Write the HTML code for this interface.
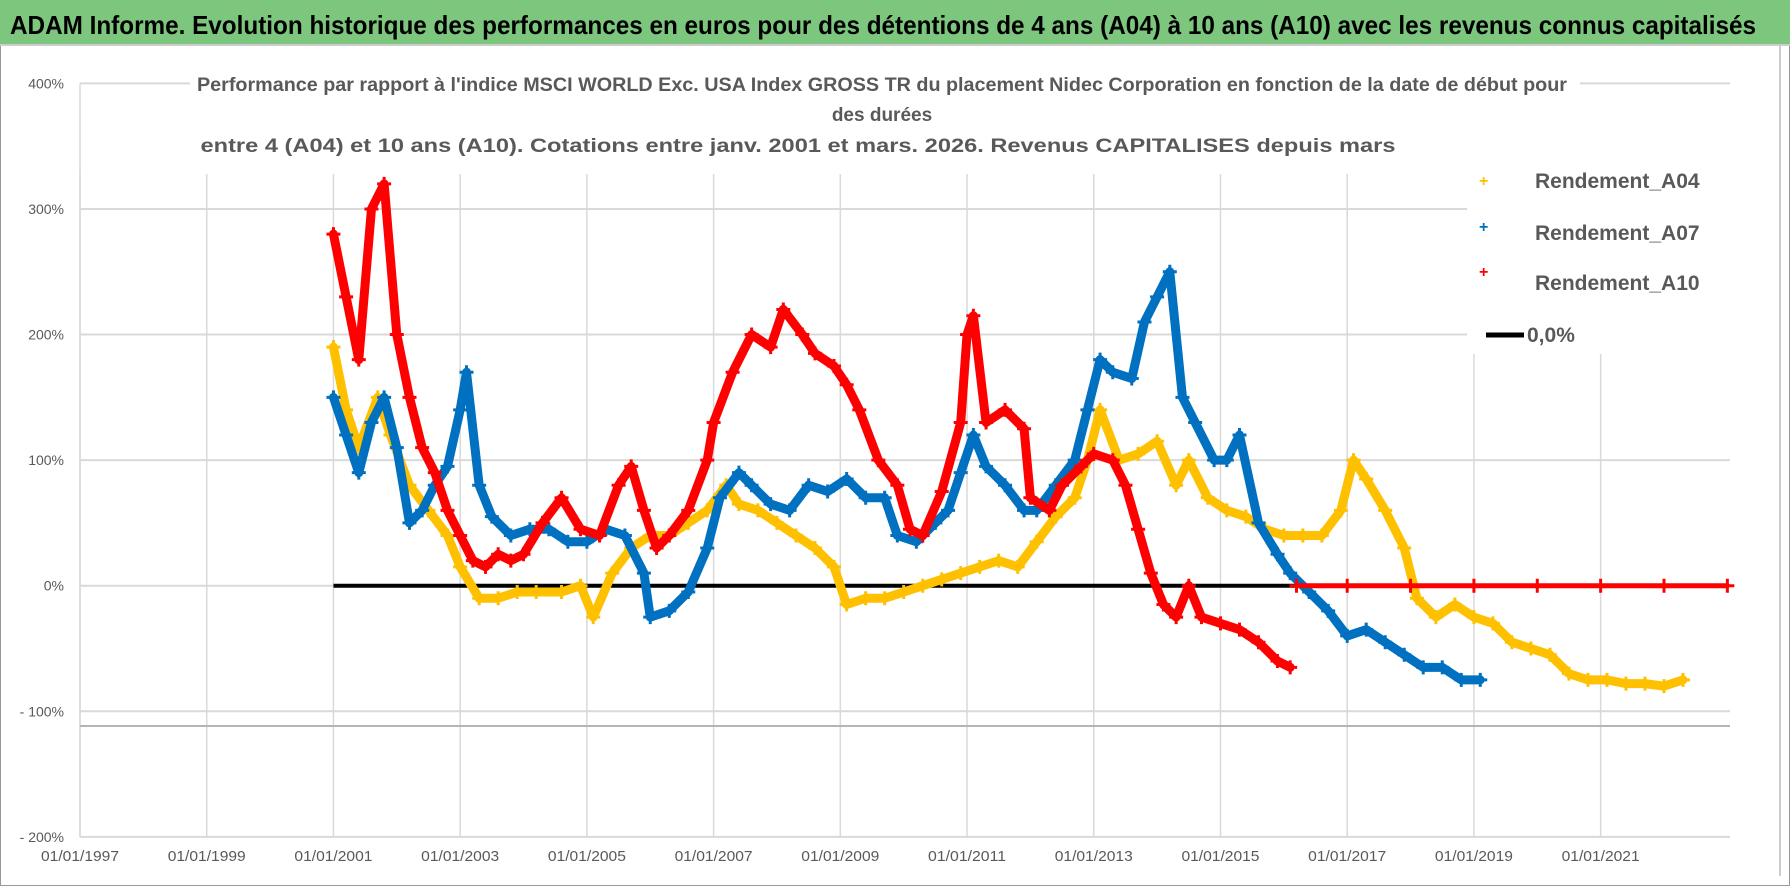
<!DOCTYPE html>
<html><head><meta charset="utf-8"><style>
html,body{margin:0;padding:0;background:#fff;}
svg{display:block;font-family:"Liberation Sans",sans-serif;}
</style></head><body>
<svg id="chart" width="1790" height="886" viewBox="0 0 1790 886">
<rect x="0" y="0" width="1790" height="886" fill="#fff" stroke="#999" stroke-width="2"/>
<rect x="0" y="0" width="1790" height="44" fill="#7dc67e"/>
<line x1="0" y1="45" x2="1790" y2="45" stroke="#ccc" stroke-width="2"/>
<text x="10" y="34" font-size="26" font-weight="bold" fill="#000" textLength="1746" lengthAdjust="spacingAndGlyphs">ADAM Informe. Evolution historique des performances en euros pour des détentions de 4 ans (A04) à 10 ans (A10) avec les revenus connus capitalisés</text>
<line x1="1780" y1="46" x2="1780" y2="876" stroke="#ccc" stroke-width="2"/>
<g id="grid"></g>
<line x1="80" y1="726" x2="1730" y2="726" stroke="#b5b5b5" stroke-width="2"/>
<rect x="190" y="68" width="1390" height="106" fill="#fff"/>
<g font-weight="bold" fill="#595959" font-size="19" text-anchor="middle">
<text x="882" y="91" textLength="1370" lengthAdjust="spacingAndGlyphs">Performance par rapport à l'indice MSCI WORLD Exc. USA Index GROSS TR  du placement Nidec Corporation en fonction de la date de début pour</text>
<text x="882" y="121">des durées</text>
<text x="798" y="152" textLength="1195" lengthAdjust="spacingAndGlyphs">entre 4 (A04) et 10 ans (A10).  Cotations entre janv. 2001 et mars. 2026. Revenus CAPITALISES depuis mars</text>
</g>
<g id="axes"></g>
<g id="series"></g>
<g>
<rect x="1467" y="160" width="263" height="194" fill="#fff"/>
<g font-size="21" font-weight="bold" fill="#595959">
<text x="1479" y="186" fill="#ffc000" font-size="16">+</text><text x="1535" y="188">Rendement_A04</text>
<text x="1479" y="232" fill="#0070c0" font-size="16">+</text><text x="1535" y="240">Rendement_A07</text>
<text x="1479" y="277" fill="#ff0000" font-size="16">+</text><text x="1535" y="290">Rendement_A10</text>
<line x1="1486" y1="335" x2="1524" y2="335" stroke="#000" stroke-width="5"/><text x="1527" y="342">0,0%</text>
</g></g>
</svg>
<script>
const yTicks=[400,300,200,100,0,-100,-200];
const yTickLabels=["400%","300%","200%","100%","0%","- 100%","- 200%"];
const xTicks=[1997,1999,2001,2003,2005,2007,2009,2011,2013,2015,2017,2019,2021];
const a04Dates=[2001.0,2001.2,2001.4,2001.7,2001.9,2002.2,2002.5,2002.8,2003.0,2003.3,2003.6,2003.9,2004.2,2004.6,2004.9,2005.1,2005.4,2005.7,2006.0,2006.3,2006.6,2006.9,2007.2,2007.4,2007.7,2008.0,2008.3,2008.6,2008.9,2009.1,2009.4,2009.7,2010.0,2010.3,2010.6,2010.9,2011.2,2011.5,2011.8,2012.1,2012.4,2012.7,2012.9,2013.1,2013.4,2013.7,2014.0,2014.3,2014.5,2014.8,2015.1,2015.4,2015.7,2016.0,2016.3,2016.6,2016.9,2017.1,2017.3,2017.6,2017.9,2018.1,2018.4,2018.7,2019.0,2019.3,2019.6,2019.9,2020.2,2020.5,2020.8,2021.1,2021.4,2021.7,2022.0,2022.3];
const a04Values=[190,140,110,150,120,80,60,40,15,-10,-10,-5,-5,-5,0,-25,10,30,40,40,50,60,80,65,60,50,40,30,15,-15,-10,-10,-5,0,5,10,15,20,15,35,55,70,100,140,100,105,115,80,100,70,60,55,45,40,40,40,60,100,85,60,30,-10,-25,-15,-25,-30,-45,-50,-55,-70,-75,-75,-78,-78,-80,-75];
const a07Dates=[2001.0,2001.2,2001.4,2001.6,2001.8,2002.0,2002.2,2002.4,2002.6,2002.8,2003.0,2003.1,2003.3,2003.5,2003.8,2004.1,2004.4,2004.7,2005.0,2005.3,2005.6,2005.9,2006.0,2006.3,2006.6,2006.9,2007.1,2007.4,2007.6,2007.9,2008.2,2008.5,2008.8,2009.1,2009.4,2009.7,2009.9,2010.2,2010.5,2010.7,2010.9,2011.1,2011.3,2011.6,2011.9,2012.1,2012.4,2012.7,2012.9,2013.1,2013.3,2013.6,2013.8,2014.0,2014.2,2014.4,2014.6,2014.9,2015.1,2015.3,2015.6,2015.9,2016.1,2016.4,2016.7,2017.0,2017.3,2017.6,2017.9,2018.2,2018.5,2018.8,2019.1];
const a07Values=[150,120,90,130,150,110,50,60,80,95,140,170,80,55,40,45,45,35,35,45,40,10,-25,-20,-5,30,70,90,80,65,60,80,75,85,70,70,40,35,50,60,90,120,95,80,60,60,80,100,140,180,170,165,210,230,250,150,130,100,100,120,50,25,10,-5,-20,-40,-35,-45,-55,-65,-65,-75,-75];
const a10Dates=[2001.0,2001.2,2001.4,2001.6,2001.8,2002.0,2002.2,2002.4,2002.6,2002.8,2003.0,2003.2,2003.4,2003.6,2003.8,2004.0,2004.3,2004.6,2004.9,2005.2,2005.5,2005.7,2005.9,2006.1,2006.3,2006.6,2006.9,2007.0,2007.3,2007.6,2007.9,2008.1,2008.4,2008.6,2008.9,2009.1,2009.3,2009.6,2009.9,2010.1,2010.3,2010.6,2010.9,2011.0,2011.1,2011.3,2011.6,2011.9,2012.0,2012.3,2012.5,2012.8,2013.0,2013.3,2013.5,2013.7,2013.9,2014.1,2014.3,2014.5,2014.7,2015.0,2015.3,2015.6,2015.9,2016.1];
const a10Values=[280,230,180,300,320,200,150,110,90,60,40,20,15,25,20,25,50,70,45,40,80,95,60,30,40,60,100,130,170,200,190,220,200,185,175,160,140,100,80,45,40,75,130,200,215,130,140,125,70,60,80,95,105,100,80,45,10,-15,-25,0,-25,-30,-35,-45,-60,-65];
const a10ZeroDates=[2016.2,2017,2018,2019,2020,2021,2022,2023];
const a10ZeroValues=[0,0,0,0,0,0,0,0];
const zeroDates=[2001,2016.2];
const zeroValues=[0,0];

const NS="http://www.w3.org/2000/svg";
const X=y=>80+(y-1997)*63.36;
const Y=v=>585.7-v*1.2557;
function mk(tag,attrs,parent){const e=document.createElementNS(NS,tag);for(const k in attrs)e.setAttribute(k,attrs[k]);parent.appendChild(e);return e;}
const grid=document.getElementById('grid'),axes=document.getElementById('axes'),series=document.getElementById('series');
yTicks.forEach((t,i)=>{
  const l=mk('line',{x1:80,x2:1730,y1:Y(t),y2:Y(t),stroke:'#d9d9d9','stroke-width':2},grid);
  
  
  const tx=mk('text',{x:64,y:Y(t)+5,'font-size':14,fill:'#595959','text-anchor':'end'},axes);
  tx.textContent=yTickLabels[i];
  
  
});
xTicks.forEach(t=>{
  const l=mk('line',{x1:X(t),x2:X(t),y1:170,y2:Y(-200),stroke:'#d9d9d9','stroke-width':1.5},grid);
  
  
  const tx=mk('text',{x:X(t),y:861,'font-size':15,fill:'#595959','text-anchor':'middle',textLength:78,lengthAdjust:'spacingAndGlyphs'},axes);
  tx.textContent='01/01/'+t;
  
  
});
mk('line',{x1:80,x2:80,y1:Y(400),y2:Y(-200),stroke:'#d9d9d9','stroke-width':1.5},grid);
function scatter(dates,vals,color,name,w){
  const g=mk('g',{},series);
  
  
  const pts=dates.map((d,i)=>X(d)+','+Y(vals[i])).join(' ');
  mk('polyline',{points:pts,fill:'none',stroke:color,'stroke-width':w,'stroke-linejoin':'round','stroke-linecap':'round'},g);
  dates.forEach((d,i)=>{
    const x=X(d),y=Y(vals[i]);
    const p=mk('path',{d:`M${x-7},${y}h14M${x},${y-7}v14`,stroke:color,'stroke-width':3},g);
    
    
  });
}
const zl=mk('polyline',{points:zeroDates.map((d,i)=>X(d)+','+Y(zeroValues[i])).join(' '),stroke:'#000','stroke-width':4,fill:'none'},series);


scatter(a04Dates,a04Values,'#ffc000','series-a04',9);
scatter(a07Dates,a07Values,'#0070c0','series-a07',9);
scatter(a10Dates,a10Values,'#ff0000','series-a10',9);
scatter(a10ZeroDates,a10ZeroValues,'#ff0000','series-a10-zero',5);
</script>
</body></html>
